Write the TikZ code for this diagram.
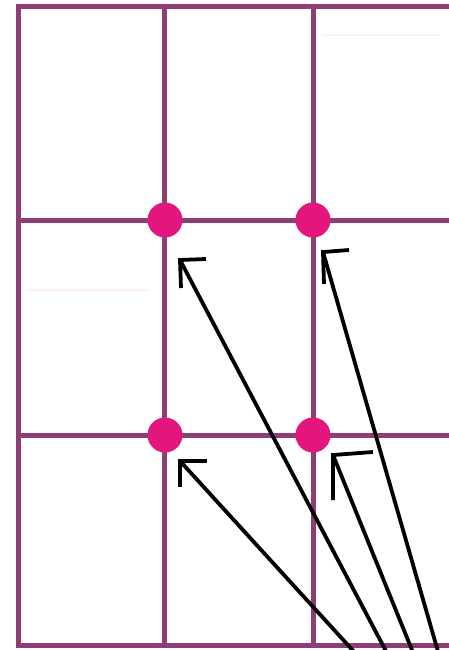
\documentclass[tikz,border=0pt]{standalone}
\begin{document}
\begin{tikzpicture}[x=1pt,y=-1pt,
  gridline/.style={draw=gridc,line width=5pt},
  dot/.style={circle,fill=dotc,minimum size=35pt,inner sep=0pt},
  arr/.style={draw=black,line width=3.8pt},
  barb/.style={draw=black,line width=3.8pt,line cap=butt,line join=miter},
  faint/.style={draw=pink!25,line width=1.2pt}]
\definecolor{gridc}{RGB}{142,62,116}
\definecolor{dotc}{RGB}{226,22,124}
\useasboundingbox (0,0) rectangle (448,650);
\fill[white] (0,0) rectangle (448,650);
% faint marks
\draw[faint] (322,35) -- (440,35);
\draw[faint] (26,290) -- (150,290);
% grid
\draw[gridline] (460,7) -- (18,7) -- (18,645) -- (460,645);
\draw[gridline] (164,7) -- (164,645);
\draw[gridline] (313,7) -- (313,645);
\draw[gridline] (18,220) -- (460,220);
\draw[gridline] (18,435) -- (460,435);
% dots
\node[dot] (d1) at (165,220) {};
\node[dot] (d2) at (313,220) {};
\node[dot] (d3) at (165,435) {};
\node[dot] (d4) at (313,435) {};
% arrow tips and tails
\coordinate (t1) at (180,461);
\coordinate (t2) at (180,260);
\coordinate (t3) at (333,455);
\coordinate (t4) at (323,252);
\coordinate (s1) at (357,655);
\coordinate (s2) at (388,655);
\coordinate (s3) at (414,655);
\coordinate (s4) at (439,655);
\draw[arr] (s1) -- (t1);
\draw[arr] (s2) -- (t2);
\draw[arr] (s3) -- (t3);
\draw[arr] (s4) -- (t4);
% arrowheads
\draw[barb] ([xshift=27pt]t1) -- (t1) -- ([yshift=-26pt]t1);
\draw[barb] ([xshift=26pt,yshift=1pt]t2) -- (t2) -- ([xshift=1pt,yshift=-28pt]t2);
\draw[barb] ([xshift=40pt,yshift=3pt]t3) -- (t3) -- ([xshift=0pt,yshift=-45pt]t3);
\draw[barb] ([xshift=26pt,yshift=2pt]t4) -- (t4) -- ([xshift=1pt,yshift=-32pt]t4);
\end{tikzpicture}
\end{document}
